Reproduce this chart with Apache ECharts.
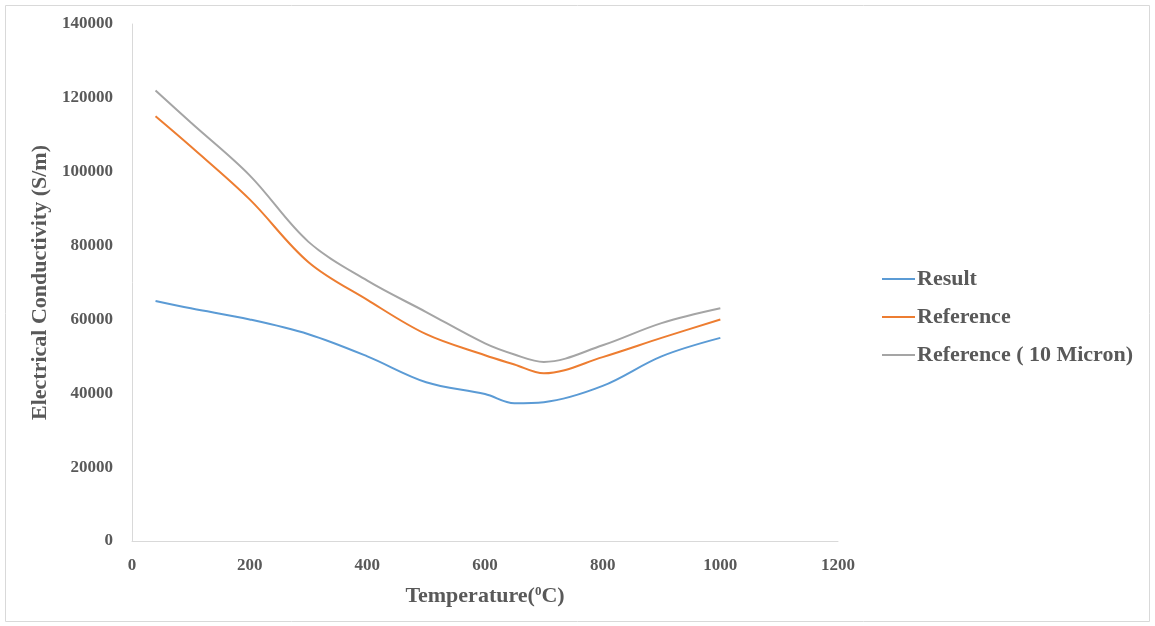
<!DOCTYPE html>
<html><head><meta charset="utf-8">
<script src="https://cdn.jsdelivr.net/npm/echarts@6/dist/echarts.min.js"></script>
<style>html,body{margin:0;padding:0;background:#fff}#c{width:1155px;height:626px}</style>
</head><body><div id="c"></div>
<script>
const temps = [40, 100, 200, 300, 400, 500, 600, 650, 700, 800, 900, 1000];
const result = [65000, 63000, 60000, 56000, 50000, 43000, 39800, 37300, 37600, 42000, 50000, 55000];
const reference = [115000, 106800, 92500, 75500, 65300, 56000, 50300, 47800, 45400, 49800, 55000, 60000];
const reference10 = [122000, 113300, 99000, 81000, 70500, 62000, 53500, 50500, 48500, 53000, 59000, 63000];
const seriesNames = ['Result', 'Reference', 'Reference ( 10 Micron)'];
const colors = ['#5B9BD5', '#ED7D31', '#A5A5A5'];

const font = '"Liberation Serif", "Times New Roman", serif';
const txt = '#595959';
const pair = (xs, ys) => xs.map((x, i) => [x, ys[i]]);
const chart = echarts.init(document.getElementById('c'));
chart.setOption({
  animation: false,
  color: colors,
  graphic: [{type: 'rect', shape: {x: 5.5, y: 5.5, width: 1144, height: 616}, style: {fill: 'none', stroke: '#D9D9D9', lineWidth: 1}}],
  grid: {left: 132, right: 317, top: 24, bottom: 85},
  legend: {
    orient: 'vertical', left: 877, top: 263, itemGap: 16, itemWidth: 33, itemHeight: 2,
    icon: 'rect',
    textStyle: {fontFamily: font, fontWeight: 'bold', fontSize: 22, color: txt, padding: [0, 0, 0, -3]},
    data: seriesNames
  },
  xAxis: {
    type: 'value', min: 0, max: 1200, interval: 200,
    name: 'Temperature({sup|0}C)', nameLocation: 'middle', nameGap: 44,
    nameTextStyle: {fontFamily: font, fontWeight: 'bold', fontSize: 22, color: txt,
      rich: {sup: {fontFamily: font, fontWeight: 'bold', fontSize: 13, color: txt, verticalAlign: 'top', padding: [0, 0, 8, 0]}}},
    axisLine: {lineStyle: {color: '#D9D9D9'}}, axisTick: {show: false}, splitLine: {show: false},
    axisLabel: {fontFamily: font, fontWeight: 'bold', fontSize: 17, color: txt, margin: 16, formatter: v => String(v)}
  },
  yAxis: {
    type: 'value', min: 0, max: 140000, interval: 20000,
    name: 'Electrical Conductivity (S/m)', nameLocation: 'middle', nameGap: 77,
    nameTextStyle: {fontFamily: font, fontWeight: 'bold', fontSize: 22, color: txt},
    axisLine: {show: true, lineStyle: {color: '#D9D9D9'}}, axisTick: {show: false}, splitLine: {show: false},
    axisLabel: {fontFamily: font, fontWeight: 'bold', fontSize: 17, color: txt, margin: 19, formatter: v => String(v)}
  },
  series: [
    {name: seriesNames[0], type: 'line', smooth: 0.35, showSymbol: false, lineStyle: {width: 2}, data: pair(temps, result)},
    {name: seriesNames[1], type: 'line', smooth: 0.35, showSymbol: false, lineStyle: {width: 2}, data: pair(temps, reference)},
    {name: seriesNames[2], type: 'line', smooth: 0.35, showSymbol: false, lineStyle: {width: 2}, data: pair(temps, reference10)}
  ]
});
</script></body></html>
